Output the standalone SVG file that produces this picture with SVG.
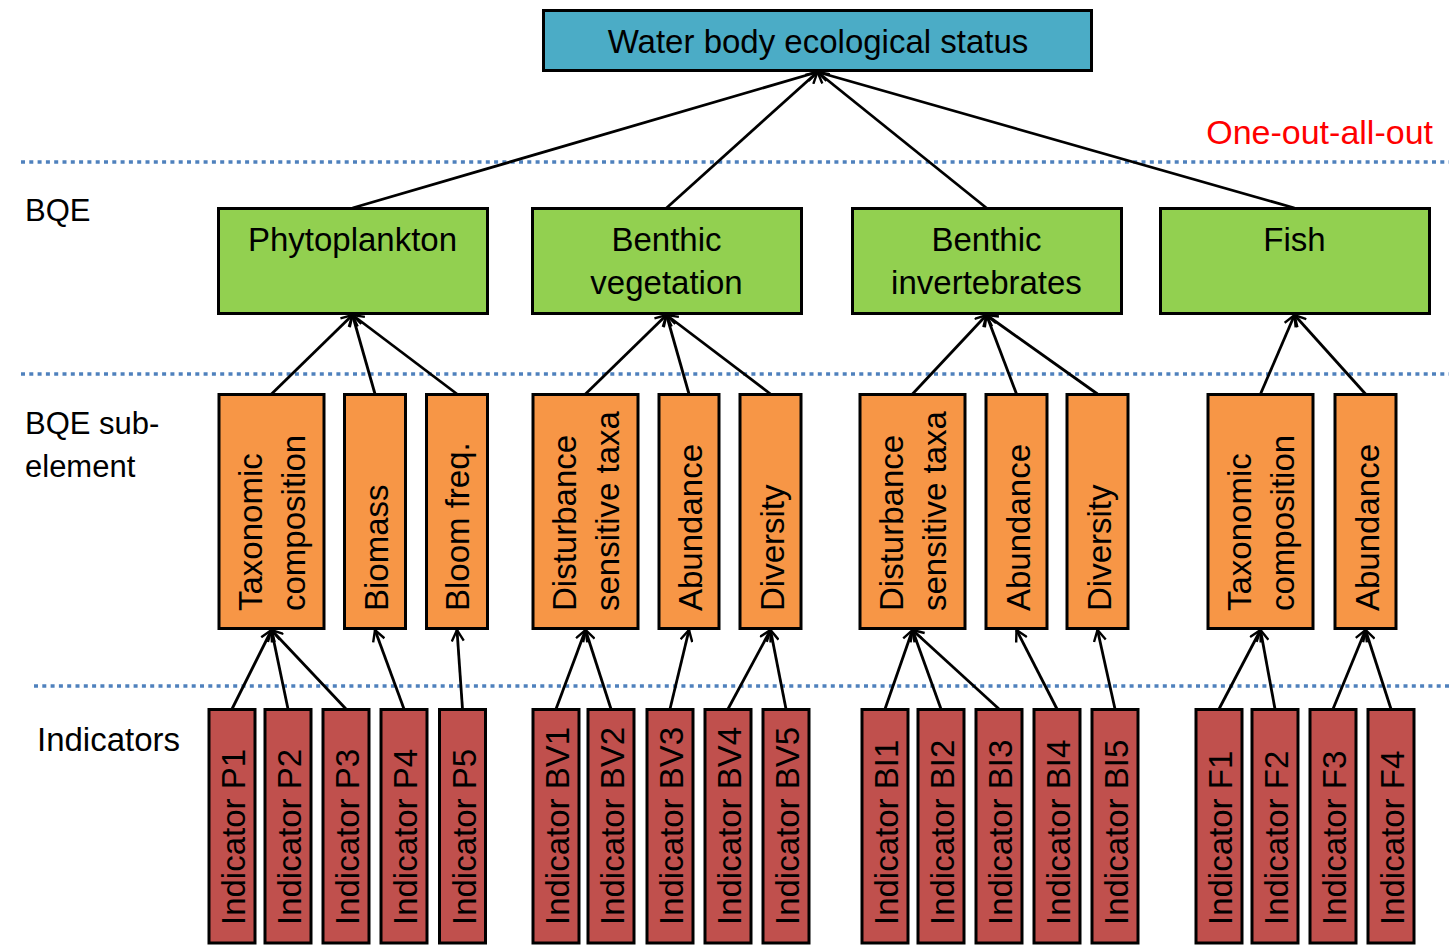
<svg xmlns="http://www.w3.org/2000/svg" width="1449" height="950" viewBox="0 0 1449 950">
<style>
text{font-family:"Liberation Sans",Arial,sans-serif;font-size:33px;fill:#000}
.lab{font-size:31px}
.top{fill:#4bacc6;stroke:#000;stroke-width:3}
.bqe{fill:#92d050;stroke:#000;stroke-width:3}
.sub{fill:#f79646;stroke:#000;stroke-width:3}
.ind{fill:#c0504d;stroke:#000;stroke-width:3}
.sep{stroke:#4f81bd;stroke-width:3.5;stroke-dasharray:4 4.3;fill:none}
.c{text-anchor:middle}
.red{fill:#ff0000;font-size:34px;text-anchor:end}
#connectors line{stroke:#000;stroke-width:2.8;marker-end:url(#arr)}
</style>
<defs>
<marker id="arr" markerUnits="userSpaceOnUse" viewBox="0 0 14 14" refX="12" refY="7" markerWidth="14" markerHeight="14" orient="auto">
<path d="M1,1 L12,7 L1,13" fill="none" stroke="#000" stroke-width="2.4"/>
</marker>
</defs>
<rect width="1449" height="950" fill="#fff"/>
<g id="separators">
<line class="sep" x1="21" y1="162" x2="1449" y2="162"/>
<line class="sep" x1="21" y1="374" x2="1449" y2="374"/>
<line class="sep" x1="34" y1="686" x2="1449" y2="686"/>
</g>
<g id="labels">
<text class="lab" x="25" y="221">BQE</text>
<text class="lab" x="25" y="434">BQE sub-</text>
<text class="lab" x="25" y="477">element</text>
<text x="37" y="751" font-size="33.5">Indicators</text>
<text class="red" x="1433" y="144">One-out-all-out</text>
</g>
<g id="connectors">
<line x1="352.5" y1="208" x2="817.5" y2="72"/>
<line x1="666.5" y1="208" x2="817.5" y2="72"/>
<line x1="986.5" y1="208" x2="817.5" y2="72"/>
<line x1="1294.5" y1="208" x2="817.5" y2="72"/>
<line x1="271.5" y1="394" x2="352.5" y2="315"/>
<line x1="375" y1="394" x2="352.5" y2="315"/>
<line x1="457" y1="394" x2="352.5" y2="315"/>
<line x1="585.5" y1="394" x2="666.5" y2="315"/>
<line x1="689" y1="394" x2="666.5" y2="315"/>
<line x1="770.5" y1="394" x2="666.5" y2="315"/>
<line x1="912.5" y1="394" x2="986.5" y2="315"/>
<line x1="1016.5" y1="394" x2="986.5" y2="315"/>
<line x1="1097.5" y1="394" x2="986.5" y2="315"/>
<line x1="1260.5" y1="394" x2="1294.5" y2="315"/>
<line x1="1365.5" y1="394" x2="1294.5" y2="315"/>
<line x1="232" y1="709" x2="271.5" y2="630"/>
<line x1="288" y1="709" x2="271.5" y2="630"/>
<line x1="346" y1="709" x2="271.5" y2="630"/>
<line x1="404" y1="709" x2="375" y2="630"/>
<line x1="462.5" y1="709" x2="457" y2="630"/>
<line x1="556" y1="709" x2="585.5" y2="630"/>
<line x1="611" y1="709" x2="585.5" y2="630"/>
<line x1="670" y1="709" x2="689" y2="630"/>
<line x1="728" y1="709" x2="770.5" y2="630"/>
<line x1="786" y1="709" x2="770.5" y2="630"/>
<line x1="885" y1="709" x2="912.5" y2="630"/>
<line x1="941" y1="709" x2="912.5" y2="630"/>
<line x1="999" y1="709" x2="912.5" y2="630"/>
<line x1="1057" y1="709" x2="1016.5" y2="630"/>
<line x1="1115" y1="709" x2="1097.5" y2="630"/>
<line x1="1219" y1="709" x2="1260.5" y2="630"/>
<line x1="1275" y1="709" x2="1260.5" y2="630"/>
<line x1="1333" y1="709" x2="1365.5" y2="630"/>
<line x1="1391" y1="709" x2="1365.5" y2="630"/>
</g>
<g id="status"><rect class="top" x="543.5" y="10.5" width="548" height="60"/><text class="c" x="818" y="53">Water body ecological status</text></g>
<g id="phyto"><rect class="bqe" x="218.5" y="208.5" width="269" height="105"/><text class="c" x="352.5" y="251">Phytoplankton</text></g>
<g id="bveg"><rect class="bqe" x="532.5" y="208.5" width="269" height="105"/><text class="c" x="666.5" y="251">Benthic</text><text class="c" x="666.5" y="294">vegetation</text></g>
<g id="binv"><rect class="bqe" x="852.5" y="208.5" width="269" height="105"/><text class="c" x="986.5" y="251">Benthic</text><text class="c" x="986.5" y="294">invertebrates</text></g>
<g id="fish"><rect class="bqe" x="1160.5" y="208.5" width="269" height="105"/><text class="c" x="1294.5" y="251">Fish</text></g>

<g id="p-tax"><rect class="sub" x="219" y="394.5" width="105" height="234"/><text transform="translate(261.5,611) rotate(-90)">Taxonomic</text><text transform="translate(304.5,611) rotate(-90)">composition</text></g>
<g id="p-bio"><rect class="sub" x="344.5" y="394.5" width="61" height="234"/><text transform="translate(388,611) rotate(-90)">Biomass</text></g>
<g id="p-bloom"><rect class="sub" x="426.5" y="394.5" width="61" height="234"/><text transform="translate(469,611) rotate(-90)">Bloom freq.</text></g>
<g id="bv-dist"><rect class="sub" x="533" y="394.5" width="105" height="234"/><text transform="translate(575.5,611) rotate(-90)">Disturbance</text><text transform="translate(618.5,611) rotate(-90)">sensitive taxa</text></g>
<g id="bv-ab"><rect class="sub" x="659" y="394.5" width="60" height="234"/><text transform="translate(702,611) rotate(-90)">Abundance</text></g>
<g id="bv-div"><rect class="sub" x="740" y="394.5" width="61" height="234"/><text transform="translate(783.5,611) rotate(-90)">Diversity</text></g>
<g id="bi-dist"><rect class="sub" x="860" y="394.5" width="105" height="234"/><text transform="translate(902.5,611) rotate(-90)">Disturbance</text><text transform="translate(945.5,611) rotate(-90)">sensitive taxa</text></g>
<g id="bi-ab"><rect class="sub" x="986" y="394.5" width="61" height="234"/><text transform="translate(1029.5,611) rotate(-90)">Abundance</text></g>
<g id="bi-div"><rect class="sub" x="1067" y="394.5" width="61" height="234"/><text transform="translate(1110.5,611) rotate(-90)">Diversity</text></g>
<g id="f-tax"><rect class="sub" x="1208" y="394.5" width="105" height="234"/><text transform="translate(1250.5,611) rotate(-90)">Taxonomic</text><text transform="translate(1293.5,611) rotate(-90)">composition</text></g>
<g id="f-ab"><rect class="sub" x="1335" y="394.5" width="61" height="234"/><text transform="translate(1378.5,611) rotate(-90)">Abundance</text></g>

<g id="ind-p1"><rect class="ind" x="209" y="709.5" width="46" height="233.5"/><text transform="translate(245,925) rotate(-90)">Indicator P1</text></g>
<g id="ind-p2"><rect class="ind" x="265" y="709.5" width="46" height="233.5"/><text transform="translate(301,925) rotate(-90)">Indicator P2</text></g>
<g id="ind-p3"><rect class="ind" x="323" y="709.5" width="46" height="233.5"/><text transform="translate(359,925) rotate(-90)">Indicator P3</text></g>
<g id="ind-p4"><rect class="ind" x="381" y="709.5" width="46" height="233.5"/><text transform="translate(417,925) rotate(-90)">Indicator P4</text></g>
<g id="ind-p5"><rect class="ind" x="439.5" y="709.5" width="46" height="233.5"/><text transform="translate(475.5,925) rotate(-90)">Indicator P5</text></g>
<g id="ind-bv1"><rect class="ind" x="533" y="709.5" width="46" height="233.5"/><text transform="translate(569,925) rotate(-90)">Indicator BV1</text></g>
<g id="ind-bv2"><rect class="ind" x="588" y="709.5" width="46" height="233.5"/><text transform="translate(624,925) rotate(-90)">Indicator BV2</text></g>
<g id="ind-bv3"><rect class="ind" x="647" y="709.5" width="46" height="233.5"/><text transform="translate(683,925) rotate(-90)">Indicator BV3</text></g>
<g id="ind-bv4"><rect class="ind" x="705" y="709.5" width="46" height="233.5"/><text transform="translate(741,925) rotate(-90)">Indicator BV4</text></g>
<g id="ind-bv5"><rect class="ind" x="763" y="709.5" width="46" height="233.5"/><text transform="translate(799,925) rotate(-90)">Indicator BV5</text></g>
<g id="ind-bi1"><rect class="ind" x="862" y="709.5" width="46" height="233.5"/><text transform="translate(898,925) rotate(-90)">Indicator BI1</text></g>
<g id="ind-bi2"><rect class="ind" x="918" y="709.5" width="46" height="233.5"/><text transform="translate(954,925) rotate(-90)">Indicator BI2</text></g>
<g id="ind-bi3"><rect class="ind" x="976" y="709.5" width="46" height="233.5"/><text transform="translate(1012,925) rotate(-90)">Indicator BI3</text></g>
<g id="ind-bi4"><rect class="ind" x="1034" y="709.5" width="46" height="233.5"/><text transform="translate(1070,925) rotate(-90)">Indicator BI4</text></g>
<g id="ind-bi5"><rect class="ind" x="1092" y="709.5" width="46" height="233.5"/><text transform="translate(1128,925) rotate(-90)">Indicator BI5</text></g>
<g id="ind-f1"><rect class="ind" x="1196" y="709.5" width="46" height="233.5"/><text transform="translate(1232,925) rotate(-90)">Indicator F1</text></g>
<g id="ind-f2"><rect class="ind" x="1252" y="709.5" width="46" height="233.5"/><text transform="translate(1288,925) rotate(-90)">Indicator F2</text></g>
<g id="ind-f3"><rect class="ind" x="1310" y="709.5" width="46" height="233.5"/><text transform="translate(1346,925) rotate(-90)">Indicator F3</text></g>
<g id="ind-f4"><rect class="ind" x="1368" y="709.5" width="46" height="233.5"/><text transform="translate(1404,925) rotate(-90)">Indicator F4</text></g>
</svg>
